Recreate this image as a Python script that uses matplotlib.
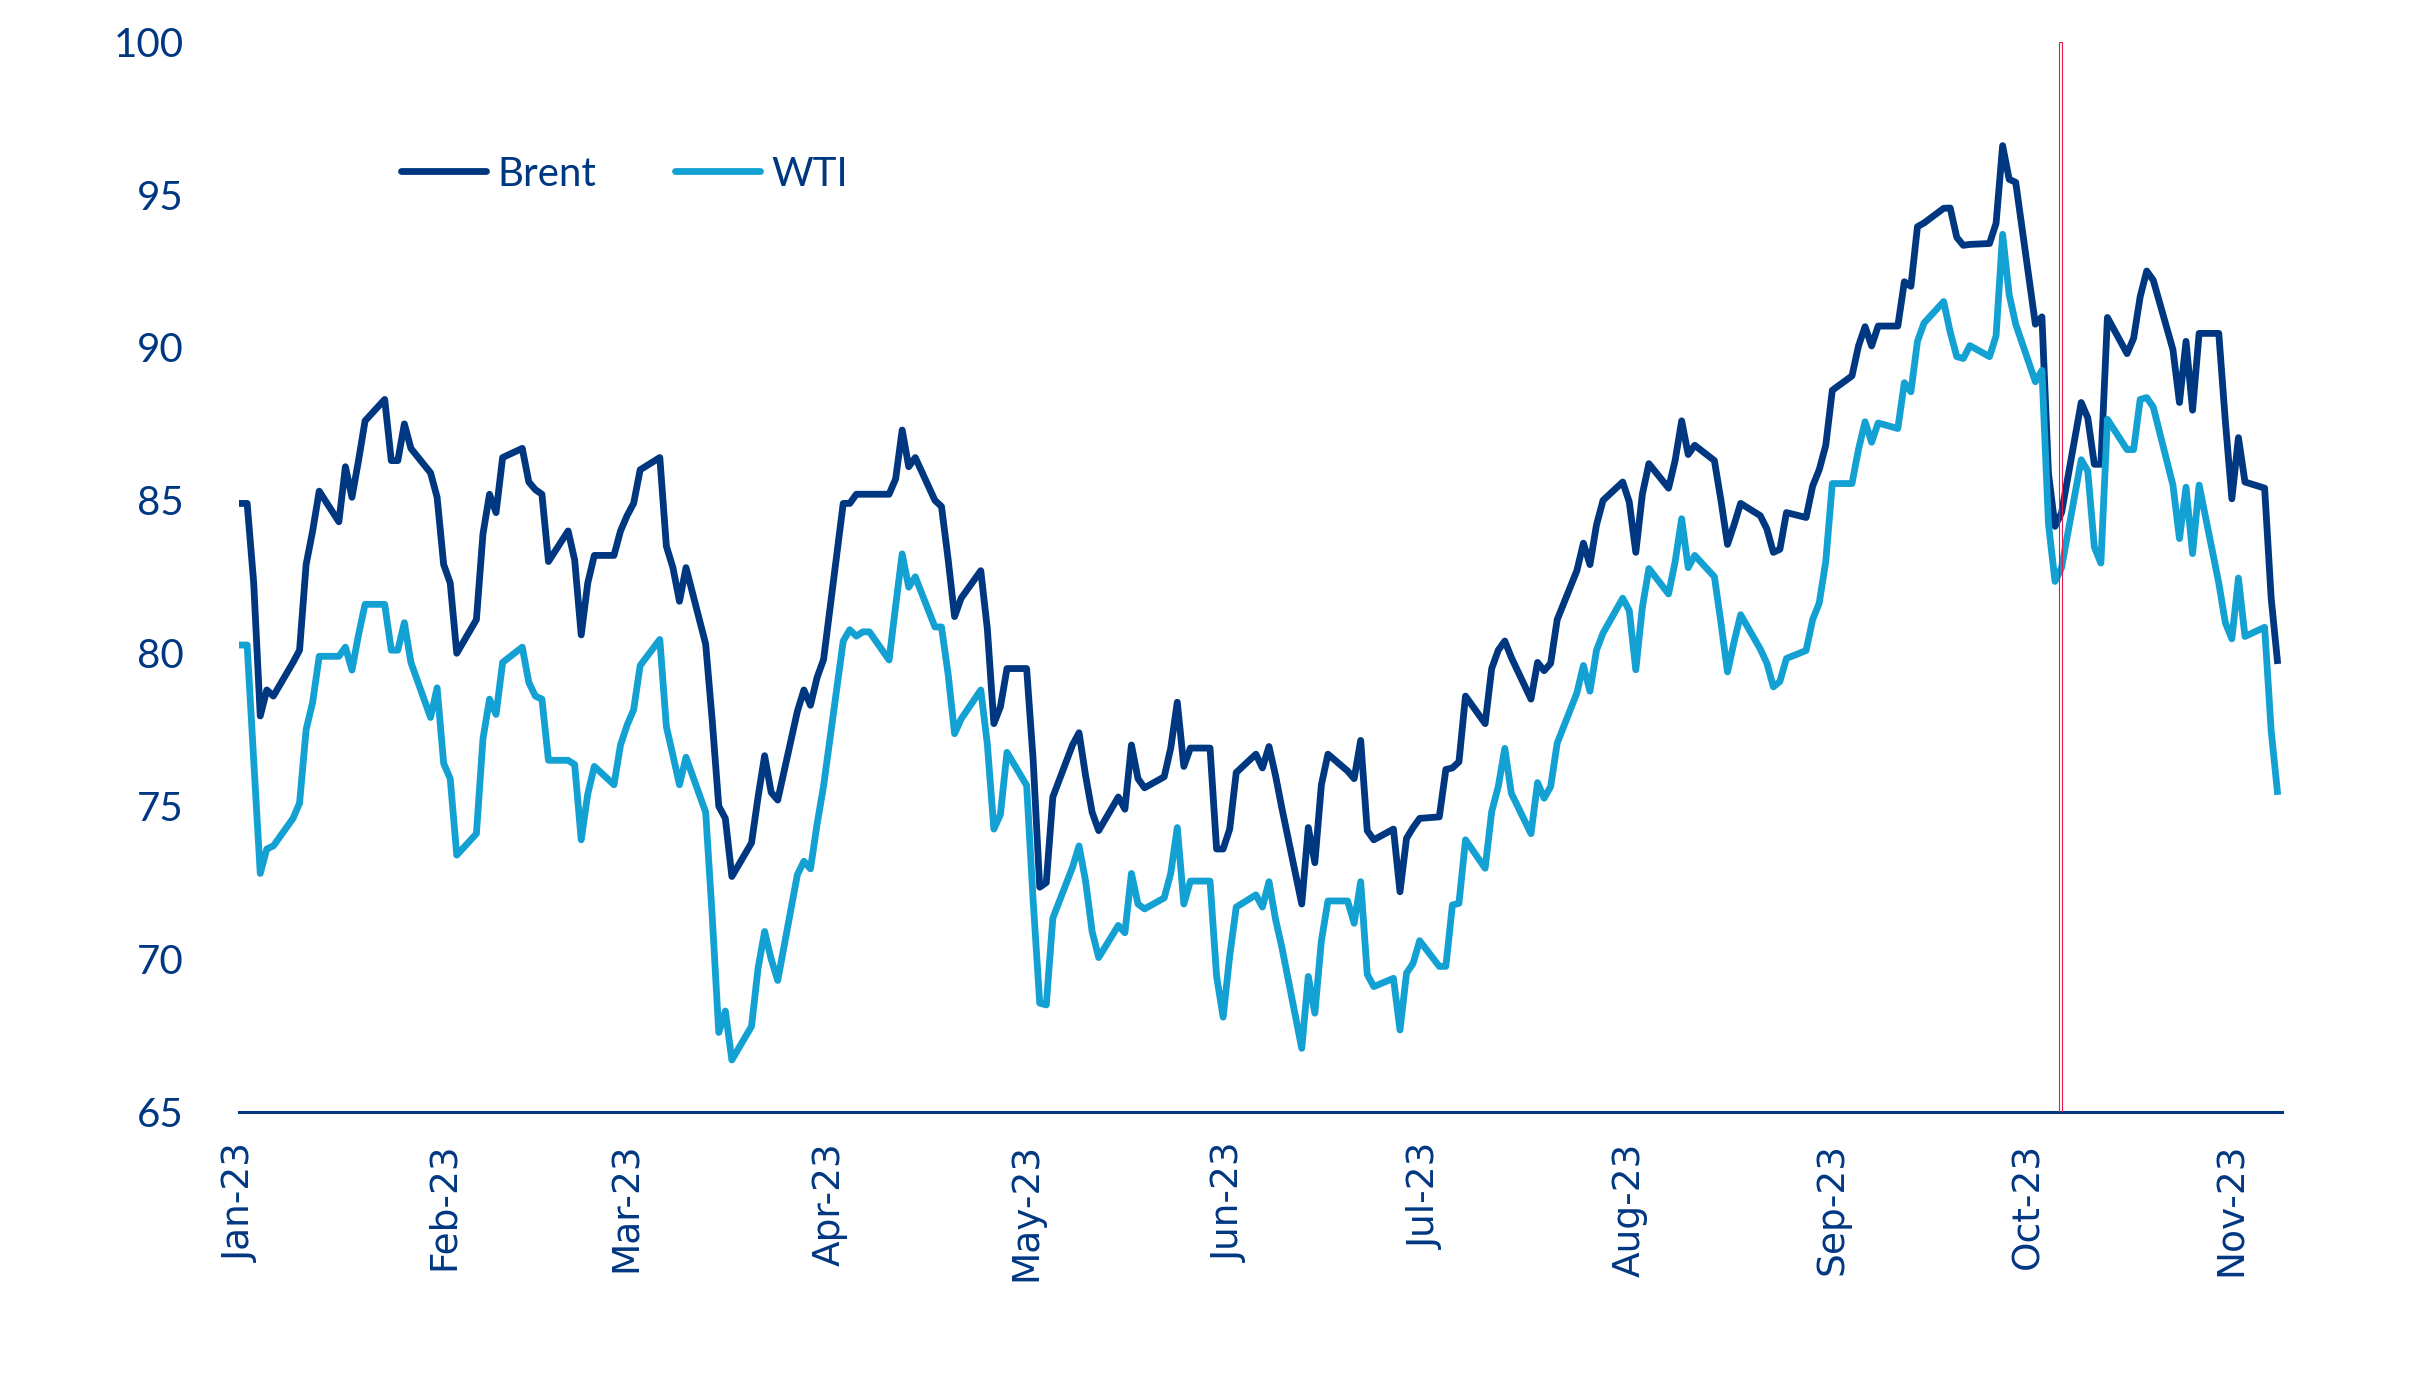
import matplotlib
matplotlib.use("Agg")
import matplotlib.pyplot as plt
import matplotlib.dates as mdates
from matplotlib.lines import Line2D
import pandas as pd

# ---------------- data ----------------
series_names = ["Brent", "WTI"]
first_date = "2022-12-30"
business_range = ("2023-01-02", "2023-11-08")
event_date = "2023-10-06"
tick_months = pd.date_range("2023-01-01", "2023-11-01", freq="MS")
y_ticks = [65, 70, 75, 80, 85, 90, 95, 100]

brent = [
    84.9,  # Dec 30
    # Jan
    84.9, 82.3, 77.95, 78.8, 78.6, 79.7, 80.1, 82.9, 84.0, 85.3, 84.3, 86.1, 85.1, 86.3,
    87.6, 88.3, 86.3, 86.3, 87.5, 86.7, 85.9, 85.1,
    # Feb
    82.9, 82.3, 80.0, 81.1, 83.9, 85.2, 84.6, 86.4, 86.7, 85.6, 85.35, 85.2, 83.0, 84.0,
    83.05, 80.6, 82.3, 83.2, 83.2, 84.0,
    # Mar
    84.5, 84.9, 86.0, 86.4, 83.5, 82.8, 81.7, 82.8, 80.3, 77.8, 75.0, 74.6, 72.7, 73.8,
    75.3, 76.65, 75.45, 75.2, 78.1, 78.8, 78.3, 79.2, 79.8,
    # Apr
    84.9, 84.9, 85.2, 85.2, 85.2, 85.2, 85.7, 87.3, 86.1, 86.4, 85.0, 84.8, 83.1, 81.2,
    81.8, 82.7, 80.8, 77.7, 78.25, 79.5,
    # May
    79.5, 76.5, 72.35, 72.5, 75.3, 77.0, 77.4, 76.0, 74.8, 74.2, 75.3, 74.9, 77.0, 75.9,
    75.6, 75.96, 76.9, 78.4, 76.3, 76.9, 76.9, 73.6, 73.6,
    # Jun
    74.25, 76.1, 76.7, 76.25, 76.95, 76.0, 74.9, 71.8, 74.3, 73.15, 75.7, 76.7, 76.15,
    75.9, 77.15, 74.2, 73.9, 74.25, 72.2, 73.95, 74.3, 74.6,
    # Jul
    74.65, 76.2, 76.25, 76.45, 78.6, 77.7, 79.5, 80.1, 80.4, 79.86, 78.5, 79.7, 79.43,
    79.67, 81.1, 82.7, 83.6, 82.9, 84.2, 85.0, 85.6,
    # Aug
    84.95, 83.3, 85.2, 86.2, 85.4, 86.3, 87.6, 86.5, 86.8, 86.3, 85.0, 83.56, 84.2, 84.9,
    84.5, 84.07, 83.3, 83.4, 84.6, 84.44, 85.47, 86.0, 86.8,
    # Sep
    88.6, 89.07, 90.05, 90.68, 90.05, 90.7, 90.7, 92.15, 92.0, 93.95, 94.07, 94.55, 94.56,
    93.6, 93.34, 93.37, 93.4, 94.06, 96.6, 95.5, 95.4,
    # Oct
    90.76, 91.0, 85.88, 84.15, 84.6, 88.2, 87.7, 86.18, 86.18, 90.98, 89.8, 90.3, 91.66,
    92.5, 92.2, 89.93, 88.2, 90.2, 87.95, 90.46, 90.46, 87.6,
    # Nov
    85.05, 87.05, 85.6, 85.4, 81.8, 79.65,
]

wti = [
    80.27,  # Dec 30
    # Jan
    80.27, 76.5, 72.8, 73.6, 73.7, 74.6, 75.1, 77.5, 78.4, 79.9, 79.9, 80.2, 79.45, 80.6,
    81.6, 81.6, 80.1, 80.1, 81.0, 79.7, 77.9, 78.87,
    # Feb
    76.4, 75.9, 73.4, 74.1, 77.2, 78.5, 78.0, 79.7, 80.2, 79.05, 78.6, 78.5, 76.5, 76.5,
    76.36, 73.9, 75.4, 76.3, 75.7, 77.0,
    # Mar
    77.65, 78.15, 79.6, 80.45, 77.6, 76.66, 75.7, 76.6, 74.8, 71.4, 67.6, 68.3, 66.7, 67.8,
    69.7, 70.9, 70.0, 69.3, 72.76, 73.2, 72.95, 74.4, 75.66,
    # Apr
    80.4, 80.77, 80.56, 80.7, 80.7, 79.78, 81.55, 83.25, 82.16, 82.5, 80.86, 80.86, 79.34,
    77.37, 77.85, 78.8, 77.03, 74.25, 74.73, 76.76,
    # May
    75.68, 71.9, 68.56, 68.5, 71.34, 73.0, 73.7, 72.55, 70.9, 70.05, 71.1, 70.86, 72.8,
    71.8, 71.64, 72.0, 72.8, 74.3, 71.8, 72.55, 72.55, 69.44, 68.1,
    # Jun
    70.1, 71.7, 72.1, 71.7, 72.53, 71.3, 70.35, 67.08, 69.43, 68.23, 70.6, 71.9, 71.9,
    71.17, 72.53, 69.5, 69.1, 69.37, 67.68, 69.54, 69.86, 70.6,
    # Jul
    69.76, 69.76, 71.77, 71.82, 73.9, 72.97, 74.82, 75.64, 76.89, 75.42, 74.1, 75.77,
    75.26, 75.64, 77.06, 78.7, 79.6, 78.76, 80.1, 80.66, 81.8,
    # Aug
    81.4, 79.46, 81.5, 82.77, 81.94, 82.99, 84.4, 82.8, 83.2, 82.5, 81.0, 79.39, 80.37,
    81.26, 80.14, 79.68, 78.9, 79.08, 79.83, 80.09, 81.1, 81.64, 83.0,
    # Sep
    85.55, 85.55, 86.67, 87.57, 86.9, 87.53, 87.35, 88.85, 88.55, 90.2, 90.8, 91.5, 90.5,
    89.7, 89.64, 90.06, 89.7, 90.38, 93.7, 91.73, 90.76,
    # Oct
    88.88, 89.25, 84.23, 82.35, 82.8, 86.33, 85.96, 83.48, 82.95, 87.65, 86.66, 86.66,
    88.3, 88.36, 88.05, 85.5, 83.75, 85.43, 83.26, 85.5, 82.3, 81.0,
    # Nov
    80.47, 82.46, 80.55, 80.85, 77.47, 75.37,
]

# ---------------- build dates ----------------
dates = pd.DatetimeIndex([pd.Timestamp(first_date)]).append(
    pd.bdate_range(*business_range))
if len(dates) != len(brent) or len(dates) != len(wti):
    raise ValueError(f"length mismatch: {len(dates)} {len(brent)} {len(wti)}")

# ---------------- style ----------------
NAVY = "#003781"
LIGHT = "#13A0D3"
RED = "#E31B4C"

fig = plt.figure(figsize=(24.22, 13.75), dpi=100)
fig.patch.set_facecolor("white")
ax = fig.add_axes([0.0988, 0.1913, 0.8432, 0.7784])

lw = 4.9
ax.plot(dates, brent, color=NAVY, lw=lw, solid_joinstyle="round",
        solid_capstyle="butt", zorder=3, label=series_names[0])
ax.plot(dates, wti, color=LIGHT, lw=lw, solid_joinstyle="round",
        solid_capstyle="butt", zorder=4, label=series_names[1])

ev = mdates.date2num(pd.Timestamp(event_date))
ax.axvspan(ev - 0.42, ev, facecolor="none", edgecolor=RED, linewidth=0.8, zorder=5)

x0 = mdates.date2num(pd.Timestamp("2023-01-01")) - 0.2
x1 = mdates.date2num(pd.Timestamp("2023-11-08")) + 0.58
ax.set_xlim(x0, x1)
ax.set_ylim(65, 100)

for s in ["top", "right", "left"]:
    ax.spines[s].set_visible(False)
ax.spines["bottom"].set_color(NAVY)
ax.spines["bottom"].set_linewidth(2.2)

ax.set_yticks(y_ticks)
ax.set_yticklabels([str(v) for v in y_ticks], fontfamily="Lato", fontsize=29, color=NAVY)
ax.tick_params(axis="y", length=0, pad=40)

ax.set_xticks(mdates.date2num(tick_months))
ax.set_xticklabels([d.strftime("%b-%y") for d in tick_months], rotation=90,
                   fontfamily="DejaVu Sans", fontsize=27, color=NAVY)
ax.tick_params(axis="x", length=0, pad=22)

handles = [Line2D([0], [0], color=NAVY, lw=lw, solid_capstyle="round"),
           Line2D([0], [0], color=LIGHT, lw=lw, solid_capstyle="round")]
leg = fig.legend(handles, series_names, loc="center left",
                 bbox_to_anchor=(401 / 2422, 1 - 174 / 1375), ncol=2, frameon=False,
                 prop={"family": "Lato", "size": 29}, handlelength=2.1,
                 handletextpad=0.3, columnspacing=1.95, borderpad=0, borderaxespad=0)
for t in leg.get_texts():
    t.set_color(NAVY)

fig.savefig("out.png", dpi=100, facecolor="white")
